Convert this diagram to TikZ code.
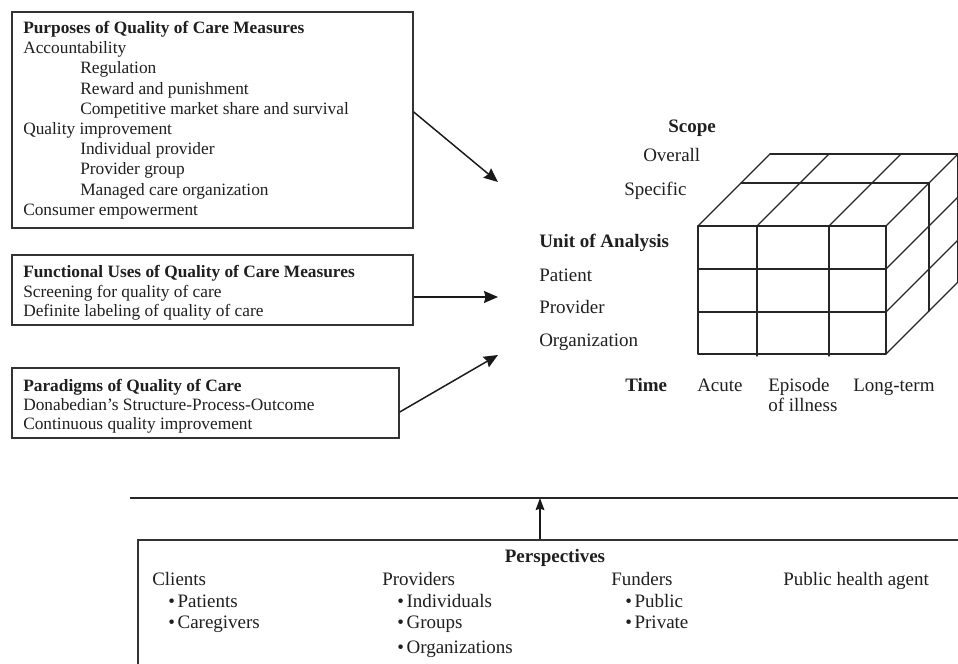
\documentclass[tikz,border=0pt]{standalone}
\usepackage{fontspec}
\setmainfont{Liberation Serif}
\usetikzlibrary{arrows.meta,fit}
\tikzset{
  boxtxt/.style={anchor=base west, inner sep=0, text=black!88, font=\fontsize{13}{15}\selectfont},
  boxttl/.style={boxtxt, font=\fontsize{13}{15}\selectfont\bfseries},
  cubetxt/.style={anchor=base west, inner sep=0, text=black!88, font=\fontsize{14.25}{17}\selectfont},
  cubettl/.style={cubetxt, font=\fontsize{14.25}{17}\selectfont\bfseries},
  perstxt/.style={anchor=base west, inner sep=0, text=black!88, font=\fontsize{14.25}{17}\selectfont},
  framebox/.style={draw=black!80, line width=1.1pt, fill=white, inner sep=0},
  arr/.style={draw=black!90, line width=1.1pt, -{Stealth[length=10.5pt,width=9pt,inset=1.2pt]}},
  cubeline/.style={draw=black!85, line width=1pt, line cap=round, line join=round}
}
\begin{document}
\begin{tikzpicture}[x=0.75pt, y=-0.75pt]
\useasboundingbox (0,0) rectangle (958,664);
\clip (0,0) rectangle (958,664);

% ---------- Box 1 ----------
\node[framebox, fit={(12,12)(413,228)}] (b1) {};
\node[boxttl] (b1t0) at (23,33) {Purposes of Quality of Care Measures};
\node[boxtxt] (b1t1) at (23,53) {Accountability};
\node[boxtxt] (b1t2) at (80,73.5) {Regulation};
\node[boxtxt] (b1t3) at (80,94) {Reward and punishment};
\node[boxtxt] (b1t4) at (80,114) {Competitive market share and survival};
\node[boxtxt] (b1t5) at (23,134) {Quality improvement};
\node[boxtxt] (b1t6) at (80,154) {Individual provider};
\node[boxtxt] (b1t7) at (80,174.5) {Provider group};
\node[boxtxt] (b1t8) at (80,195) {Managed care organization};
\node[boxtxt] (b1t9) at (23,215) {Consumer empowerment};

% ---------- Box 2 ----------
\node[framebox, fit={(12,255)(413,325)}] (b2) {};
\node[boxttl] (b2t0) at (23,277) {Functional Uses of Quality of Care Measures};
\node[boxtxt] (b2t1) at (23,297) {Screening for quality of care};
\node[boxtxt] (b2t2) at (23,316.5) {Definite labeling of quality of care};

% ---------- Box 3 ----------
\node[framebox, fit={(12,368)(399,438)}] (b3) {};
\node[boxttl] (b3t0) at (23,391) {Paradigms of Quality of Care};
\node[boxtxt] (b3t1) at (23,410) {Donabedian's Structure-Process-Outcome};
\node[boxtxt] (b3t2) at (23,429.5) {Continuous quality improvement};

% ---------- arrows into cube ----------
\coordinate (t1) at (498,182);
\coordinate (t2) at (498,297);
\coordinate (t3) at (498,355);
\draw[arr] ([yshift=6pt]b1.east) -- (t1);
\draw[arr] ([yshift=-5.25pt]b2.east) -- (t2);
\draw[arr] ([yshift=-6.75pt]b3.east) -- (t3);

% ---------- Cube labels ----------
\node[cubettl] (scope) at (668,132) {Scope};
\node[cubetxt] (overall) at (643,161) {Overall};
\node[cubetxt] (specific) at (624,195) {Specific};
\node[cubettl] (unit) at (539,247) {Unit of Analysis};
\node[cubetxt] (patient) at (539,281) {Patient};
\node[cubetxt] (provider) at (539,313) {Provider};
\node[cubetxt] (organization) at (539,346) {Organization};
\node[cubettl] (time) at (625,391) {Time};
\node[cubetxt] (acute) at (697,391) {Acute};
\node[cubetxt] (episode) at (768,391) {Episode};
\node[cubetxt] (illness) at (768,411) {of illness};
\node[cubetxt] (longterm) at (853,391) {Long-term};

% ---------- Cube ----------
% front face
\draw[cubeline] (698,226) rectangle (886,354);
\foreach \x in {757,829} \draw[cubeline] (\x,226) -- (\x,356);
\foreach \y in {269,312} \draw[cubeline] (698,\y) -- (886,\y);
% top face
\foreach \x in {698,757,829,886} \draw[cubeline] (\x,226) -- ({\x+72},154);
\draw[cubeline] (741,183) -- (929,183);
\draw[cubeline] (770,154) -- (960,154);
% right face
\foreach \y in {269,312,354} \draw[cubeline] (886,\y) -- (960,{\y-74});
\draw[cubeline] (929,183) -- (929,311);
\draw[cubeline] (958,154) -- (958,282);

% ---------- Perspectives ----------
\coordinate (hl) at (130,498);
\coordinate (hr) at (960,498);
\draw[draw=black!85, line width=1.1pt] (hl) -- (hr);
\node[framebox, fit={(138,540)(975,690)}] (b4) {};
\coordinate (pa) at (540,498);
\draw[draw=black!90, line width=1.2pt, -{Stealth[length=9pt,width=6.5pt,inset=1pt]}] (b4.north -| pa) -- (pa);

\node[perstxt, anchor=base, font=\fontsize{14.25}{17}\selectfont\bfseries] (ptitle) at (555,562) {Perspectives};
\node[perstxt] (clients) at (152,585) {Clients};
\node[perstxt] (patients) at (168,607) {•\kern2pt Patients};
\node[perstxt] (caregivers) at (168,628) {•\kern2pt Caregivers};
\node[perstxt] (providers) at (382,585) {Providers};
\node[perstxt] (individuals) at (397,607) {•\kern2pt Individuals};
\node[perstxt] (groups) at (397,628) {•\kern2pt Groups};
\node[perstxt] (orgs) at (397,653) {•\kern2pt Organizations};
\node[perstxt] (funders) at (611,585) {Funders};
\node[perstxt] (public) at (625,607) {•\kern2pt Public};
\node[perstxt] (private) at (625,628) {•\kern2pt Private};
\node[perstxt] (pha) at (783,585) {Public health agent};
\end{tikzpicture}
\end{document}
